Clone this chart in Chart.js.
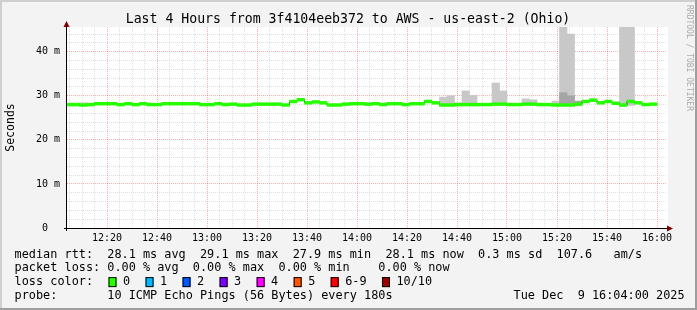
<!DOCTYPE html>
<html>
<head>
<meta charset="utf-8">
<script src="https://cdn.jsdelivr.net/npm/chart.js@4.4.1/dist/chart.umd.min.js"></script>
<style>
  html, body { margin: 0; padding: 0; background: #f3f3f3; }
  #wrap { width: 697px; height: 310px; }
</style>
</head>
<body>
<div id="wrap"><canvas id="chart" width="697" height="310"></canvas></div>
<script>
// time axis is in minutes since midnight
const viewStart = 724;   // 12:04
const viewEnd = 964;     // 16:04
const stepStart = 723;   // first 180s step begins at 12:03
const stepLen = 3;

// median rtt (ms) for every 3 min step
const median = [
    28.0, 28.0, 27.9, 28.0, 28.2, 28.2, 28.2, 28.0, 28.2, 28.0,
    28.2, 28.0, 28.0, 28.2, 28.2, 28.2, 28.2, 28.2, 28.0, 28.0,
    28.2, 28.0, 28.1, 27.9, 27.9, 28.1, 28.1, 28.1, 28.1, 27.9,
    28.7, 29.1, 28.4, 28.6, 28.4, 27.9, 27.9, 28.1, 28.2, 28.2,
    28.1, 28.2, 28.0, 28.2, 28.2, 28.0, 28.2, 28.2, 28.7, 28.4,
    27.9, 27.9, 28.0, 28.0, 28.0, 28.0, 28.0, 28.1, 28.1, 28.0,
    28.0, 28.1, 28.1, 28.0, 28.0, 27.9, 27.9, 27.9, 28.1, 28.7,
    29.0, 28.4, 28.7, 28.3, 27.9, 28.7, 28.4, 28.0, 28.1
];

// smoke (spread of the single pings) where it shows above the median
const smokeSteps = [2, 21, 50, 51, 52, 53, 54, 57, 58, 61, 62, 65, 66, 67, 74, 75];
const smokeLow   = [27.9, 27.9, 27.7, 27.7, 27.8, 27.8, 27.8, 27.9, 27.9, 27.9, 27.9, 27.8, 27.7, 27.7, 27.7, 27.8];
const smokeHigh  = [28.4, 28.3, 29.7, 30.0, 28.4, 31.1, 30.1, 32.9, 31.1, 29.3, 29.1, 28.8, 52.0, 44.0, 50.0, 49.0];
const innerSteps = [66, 67, 68];
const innerLow   = [27.8, 27.8, 27.9];
const innerHigh  = [30.7, 30.0, 28.8];

const timeLabels = ['12:20', '12:40', '13:00', '13:20', '13:40', '14:00',
                    '14:20', '14:40', '15:00', '15:20', '15:40', '16:00'];
const valueLabels = ['0  ', '10 m', '20 m', '30 m', '40 m'];
const lossLabels = ['0', '1', '2', '3', '4', '5', '6-9', '10/10'];
const lossColors = ['#26ff00', '#00b8ff', '#0059ff', '#7e00ff', '#ff00ff', '#ff5500', '#ff0000', '#a10000'];

const statLines = [
    'median rtt:  28.1 ms avg  29.1 ms max  27.9 ms min  28.1 ms now  0.3 ms sd  107.6   am/s',
    'packet loss: 0.00 % avg  0.00 % max  0.00 % min    0.00 % now',
    'loss color:',
    'probe:       10 ICMP Echo Pings (56 Bytes) every 180s'
];
const stampText = 'Tue Dec  9 16:04:00 2025';
const titleText = 'Last 4 Hours from 3f4104eeb372 to AWS - us-east-2 (Ohio)';

const MONO = '"DejaVu Sans Mono", "Liberation Mono", monospace';
const majorGrid = 'rgba(255, 0, 0, 0.32)';
const minorGrid = 'rgba(160, 160, 160, 0.32)';

const toMin = s => { const p = s.split(':'); return +p[0] * 60 + +p[1]; };
const fmtMin = m => String(Math.floor(m / 60)).padStart(2, '0') + ':' + String(m % 60).padStart(2, '0');
const majorTimes = timeLabels.map(toMin);

const xTicks = [];
for (let m = Math.ceil(viewStart / 5) * 5; m <= viewEnd; m += 5) xTicks.push(m);
const yTicks = [];
for (let v = 0; v <= 44; v += 2) yTicks.push(v);

const stepCenter = k => stepStart + k * stepLen + stepLen / 2;

const bandData = median.map((m, k) => ({ x: stepCenter(k), y: [m - 0.32, m + 0.32] }));
const lineData = median.map((m, k) => ({ x: stepStart + k * stepLen, y: m }));
lineData.push({ x: stepStart + median.length * stepLen, y: median[median.length - 1] });
const smokeData = smokeSteps.map((k, i) => ({ x: stepCenter(k), y: [smokeLow[i], smokeHigh[i]] }));
const innerData = innerSteps.map((k, i) => ({ x: stepCenter(k), y: [innerLow[i], innerHigh[i]] }));

const chrome = {
    id: 'chrome',
    beforeDraw(chart) {
        const { ctx, chartArea: a } = chart;
        const W = chart.width, H = chart.height;
        ctx.save();
        ctx.fillStyle = '#f3f3f3';
        ctx.fillRect(0, 0, W, H);
        ctx.fillStyle = '#cfcfcf';
        ctx.fillRect(0, 0, W, 2);
        ctx.fillRect(0, 0, 2, H);
        ctx.fillStyle = '#9e9e9e';
        ctx.fillRect(0, H - 2, W, 2);
        ctx.fillRect(W - 2, 0, 2, H);
        ctx.fillStyle = '#ffffff';
        ctx.fillRect(a.left, a.top, a.right - a.left + 1, a.bottom - a.top);
        ctx.restore();
    },
    afterDraw(chart) {
        const { ctx, chartArea: a } = chart;
        ctx.save();

        // axes with arrows
        ctx.strokeStyle = '#000';
        ctx.lineWidth = 1;
        ctx.beginPath();
        ctx.moveTo(a.left - 3, a.bottom + 0.5);
        ctx.lineTo(a.right + 3, a.bottom + 0.5);
        ctx.moveTo(a.left - 0.5, a.bottom + 3);
        ctx.lineTo(a.left - 0.5, a.top - 2);
        ctx.stroke();
        ctx.fillStyle = '#800000';
        ctx.beginPath();
        ctx.moveTo(a.left - 0.5, a.top - 6);
        ctx.lineTo(a.left - 3.5, a.top);
        ctx.lineTo(a.left + 2.5, a.top);
        ctx.closePath();
        ctx.fill();
        ctx.beginPath();
        ctx.moveTo(a.right + 6, a.bottom + 0.5);
        ctx.lineTo(a.right, a.bottom - 2.5);
        ctx.lineTo(a.right, a.bottom + 3.5);
        ctx.closePath();
        ctx.fill();

        // title
        ctx.fillStyle = '#000';
        ctx.textBaseline = 'middle';
        ctx.textAlign = 'center';
        ctx.font = '13.2px ' + MONO;
        ctx.fillText(titleText, 348, 19.5);

        // vertical label
        ctx.save();
        ctx.translate(11, (a.top + a.bottom) / 2);
        ctx.rotate(-Math.PI / 2);
        ctx.font = '11.5px ' + MONO;
        ctx.fillText('Seconds', 0, 0);
        ctx.restore();

        // watermark
        ctx.save();
        ctx.translate(689, 5);
        ctx.rotate(Math.PI / 2);
        ctx.textAlign = 'left';
        ctx.fillStyle = '#aaaaaa';
        ctx.font = '8px ' + MONO;
        ctx.fillText('RRDTOOL / TOBI OETIKER', 0, 0);
        ctx.restore();

        // legend
        ctx.textAlign = 'left';
        ctx.font = '11.85px ' + MONO;
        const rows = [254.5, 268.3, 282.1, 296];
        statLines.forEach((t, i) => ctx.fillText(t, 14.6, rows[i]));
        ctx.fillText(stampText, 513.5, rows[3]);

        let bx = 108.5;
        lossLabels.forEach((lab, i) => {
            ctx.fillStyle = lossColors[i];
            ctx.fillRect(bx, rows[2] - 5, 8, 10);
            ctx.strokeStyle = '#000';
            ctx.strokeRect(bx + 0.5, rows[2] - 4.5, 7, 9);
            ctx.fillStyle = '#000';
            const tx = bx + 14.5;
            ctx.fillText(lab, tx, rows[2]);
            bx = tx + ctx.measureText(lab).width + 15.4;
        });
        ctx.restore();
    }
};

new Chart(document.getElementById('chart'), {
    type: 'bar',
    data: {
        datasets: [
            {
                label: 'median',
                data: bandData,
                backgroundColor: lossColors[0],
                grouped: false,
                barPercentage: 1,
                categoryPercentage: 1,
                borderWidth: 0,
                clip: 0,
                order: 0
            },
            {
                type: 'line',
                label: 'median edge',
                data: lineData,
                borderColor: '#000',
                borderWidth: 1,
                stepped: true,
                pointRadius: 0,
                fill: false,
                clip: 0,
                order: 1
            },
            {
                label: 'smoke inner',
                data: innerData,
                backgroundColor: 'rgb(165, 165, 165)',
                grouped: false,
                barPercentage: 1,
                categoryPercentage: 1,
                borderWidth: 0,
                clip: 0,
                order: 2
            },
            {
                label: 'smoke',
                data: smokeData,
                backgroundColor: 'rgb(200, 200, 200)',
                grouped: false,
                barPercentage: 1,
                categoryPercentage: 1,
                borderWidth: 0,
                clip: 0,
                order: 3
            }
        ]
    },
    options: {
        responsive: false,
        animation: false,
        devicePixelRatio: 1,
        layout: { padding: { left: 0, right: 30, top: 27, bottom: 0 } },
        plugins: { legend: { display: false }, tooltip: { enabled: false } },
        scales: {
            x: {
                type: 'linear',
                min: viewStart,
                max: viewEnd,
                offset: false,
                afterBuildTicks: s => { s.ticks = xTicks.map(v => ({ value: v })); },
                afterFit: s => { s.height = 82; },
                ticks: {
                    autoSkip: false,
                    maxRotation: 0,
                    padding: 4,
                    color: '#000',
                    font: { family: MONO, size: 10 },
                    callback: v => majorTimes.includes(v) ? fmtMin(v) : ''
                },
                grid: {
                    offset: false,
                    drawTicks: false,
                    lineWidth: 1,
                    color: c => majorTimes.includes(c.tick.value) ? majorGrid : minorGrid
                },
                border: { display: false, dash: [1, 1] }
            },
            y: {
                min: 0,
                max: 45.6,
                afterBuildTicks: s => { s.ticks = yTicks.map(v => ({ value: v })); },
                afterFit: s => { s.width = 67; },
                ticks: {
                    autoSkip: false,
                    padding: 7,
                    color: '#000',
                    font: { family: MONO, size: 10 },
                    callback: v => v % 10 === 0 ? valueLabels[v / 10] : ''
                },
                grid: {
                    drawTicks: false,
                    lineWidth: 1,
                    color: c => c.tick.value % 10 === 0 ? majorGrid : minorGrid
                },
                border: { display: false, dash: [1, 1] }
            }
        }
    },
    plugins: [chrome]
});
</script>
</body>
</html>
